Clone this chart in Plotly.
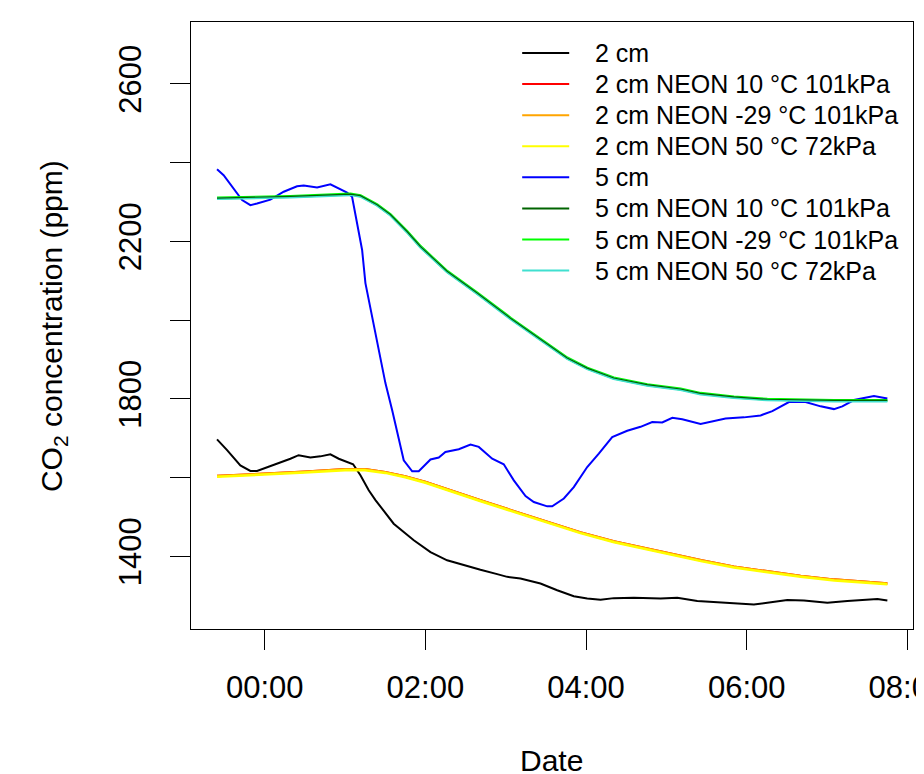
import pandas as pd
import plotly.graph_objects as go

# ---- data (hours relative to midnight, CO2 ppm) ----
blue_h = [-0.593, -0.511, -0.281, -0.178, -0.095, 0.071, 0.237, 0.403, 0.486, 0.653, 0.818, 0.902,
          1.026, 1.088, 1.151, 1.213, 1.254, 1.337, 1.420, 1.503, 1.587, 1.731, 1.836, 1.918, 2.064,
          2.167, 2.250, 2.416, 2.562, 2.665, 2.832, 2.976, 3.101, 3.247, 3.350, 3.517, 3.579, 3.724,
          3.848, 4.015, 4.159, 4.326, 4.513, 4.679, 4.824, 4.949, 5.074, 5.198, 5.426, 5.550, 5.737,
          5.965, 6.173, 6.319, 6.526, 6.733, 6.920, 7.086, 7.190, 7.335, 7.459, 7.584, 7.751]
blue_v = [2383, 2368, 2305, 2292, 2296, 2306, 2326, 2340, 2342, 2337, 2345, 2337,
          2324, 2313, 2245, 2178, 2094, 2008, 1924, 1840, 1771, 1644, 1616, 1616, 1646,
          1651, 1665, 1672, 1684, 1678, 1648, 1634, 1593, 1553, 1538, 1527, 1527, 1547,
          1576, 1627, 1661, 1703, 1719, 1729, 1741, 1740, 1752, 1748, 1736, 1741, 1750,
          1753, 1758, 1769, 1792, 1792, 1781, 1774, 1781, 1797, 1802, 1807, 1801]

black_h = [-0.593, -0.468, -0.303, -0.178, -0.095, 0.071, 0.196, 0.320, 0.423, 0.569, 0.694, 0.818,
           0.922, 1.026, 1.101, 1.192, 1.295, 1.379, 1.441, 1.606, 1.856, 2.064, 2.271, 2.521, 2.686,
           2.894, 3.019, 3.184, 3.433, 3.641, 3.848, 4.015, 4.181, 4.346, 4.595, 4.928, 5.136, 5.385,
           5.634, 5.841, 6.090, 6.257, 6.506, 6.712, 7.004, 7.253, 7.460, 7.627, 7.751]
black_v = [1697, 1670, 1631, 1617, 1617, 1629, 1640, 1648, 1657, 1651, 1654, 1659,
           1648, 1640, 1634, 1606, 1568, 1543, 1527, 1483, 1441, 1411, 1390, 1375, 1366,
           1355, 1348, 1344, 1331, 1314, 1299, 1293, 1290, 1294, 1295, 1293, 1295, 1287,
           1284, 1280, 1278, 1282, 1289, 1288, 1282, 1287, 1290, 1292, 1288]

neon2_h = [-0.593, 0.0, 0.5, 1.0, 1.25, 1.5, 1.75, 2.0, 2.27, 2.69, 3.10, 3.52, 3.93, 4.35,
           4.76, 5.01, 5.43, 5.84, 6.26, 6.67, 7.09, 7.50, 7.751]
neon2_10 = [1604, 1609, 1615, 1621, 1621, 1614, 1603, 1589, 1570, 1542, 1515, 1488, 1461, 1438,
            1420, 1409, 1390, 1374, 1361, 1350, 1341, 1334, 1331]
neon2_m29 = [1604, 1609, 1615, 1621, 1621, 1614, 1603, 1589, 1570, 1542, 1515, 1488, 1461, 1438,
             1420, 1409, 1390, 1374, 1361, 1350, 1341, 1334, 1331]
neon2_50 = [1602, 1607, 1613, 1619, 1619, 1612, 1601, 1587, 1568, 1540, 1513, 1486, 1459, 1436,
            1418, 1407, 1388, 1372, 1359, 1348, 1339, 1332, 1329]

neon5_h = [-0.593, 0.320, 1.067, 1.192, 1.400, 1.565, 1.773, 1.939, 2.271, 2.645, 3.060, 3.474,
           3.766, 4.015, 4.346, 4.762, 5.177, 5.426, 5.841, 6.257, 6.671, 7.086, 7.751]
neon5_10 = [2310, 2314, 2320, 2316, 2293, 2268, 2225, 2187, 2124, 2069, 2005, 1946,
            1904, 1878, 1853, 1836, 1825, 1814, 1805, 1799, 1797, 1796, 1796]
neon5_m29 = [2310, 2314, 2320, 2316, 2293, 2268, 2225, 2187, 2124, 2069, 2005, 1946,
             1904, 1878, 1853, 1836, 1825, 1814, 1805, 1799, 1797, 1796, 1796]
neon5_50 = [2308, 2312, 2318, 2314, 2291, 2266, 2223, 2185, 2122, 2067, 2003, 1944,
            1902, 1876, 1851, 1834, 1823, 1812, 1803, 1797, 1795, 1794, 1794]

x_ticks_h = [0, 2, 4, 6, 8]

BASE = pd.Timestamp("2021-06-01 00:00:00")


def to_dt(hours):
    return [(BASE + pd.Timedelta(hours=h)).strftime("%Y-%m-%d %H:%M:%S") for h in hours]


FONT = "Liberation Sans, Arial, sans-serif"

# page body has an 8px margin: figure is placed at (8, 8) in the window
W, H = 916, 766
ML, MT = 183, 14
PW, PH = 721.6, 606.7
MR = W - ML - PW
MB = H - MT - PH

fig = go.Figure()
# (name, x, y, colour, width) in legend order; draw order given separately
series = [
    ("2 cm", black_h, black_v, "black", 2),
    ("2 cm NEON 10 °C 101kPa", neon2_h, neon2_10, "red", 2.5),
    ("2 cm NEON -29 °C 101kPa", neon2_h, neon2_m29, "orange", 2.5),
    ("2 cm NEON 50 °C 72kPa", neon2_h, neon2_50, "yellow", 2.5),
    ("5 cm", blue_h, blue_v, "blue", 2),
    ("5 cm NEON 10 °C 101kPa", neon5_h, neon5_10, "darkgreen", 1.2),
    ("5 cm NEON -29 °C 101kPa", neon5_h, neon5_m29, "#00FF00", 3),
    ("5 cm NEON 50 °C 72kPa", neon5_h, neon5_50, "#40E0D0", 2.5),
]
draw_order = [0, 1, 2, 3, 4, 6, 7, 5]
for i in draw_order:
    name, hx, yv, col, w = series[i]
    fig.add_trace(go.Scatter(
        x=to_dt(hx), y=yv, mode="lines", name=name,
        line=dict(color=col, width=w), showlegend=False,
    ))

# legend (no box), drawn as key lines + labels in paper coordinates
leg_shapes, leg_ann = [], []
LEG_X0, LEG_X1, LEG_TX = 522, 569, 593   # window pixels
LEG_Y0, LEG_DY = 53, 31.07


def px_x(wx):
    return (wx - 8 - ML) / PW


def px_y(wy):
    return (MT + PH - (wy - 8)) / PH


for i, (name, _, _, col, _) in enumerate(series):
    wy = LEG_Y0 + i * LEG_DY
    leg_shapes.append(dict(type="line", xref="paper", yref="paper",
                           x0=px_x(LEG_X0), x1=px_x(LEG_X1), y0=px_y(wy), y1=px_y(wy),
                           line=dict(color=col, width=2)))
    leg_ann.append(dict(text=name, xref="paper", yref="paper", x=px_x(LEG_TX), y=px_y(wy),
                        xanchor="left", yanchor="middle", showarrow=False,
                        font=dict(family=FONT, size=25, color="black")))

axis_common = dict(
    showline=True, linecolor="black", linewidth=1.3, mirror=True,
    ticks="outside", ticklen=20, tickwidth=1.3, tickcolor="black",
    showgrid=False, zeroline=False,
    tickfont=dict(family=FONT, size=31, color="black"),
    ticklabeloverflow="allow",
)

fig.update_layout(
    width=W, height=H,
    margin=dict(l=ML, r=MR, t=MT, b=MB, pad=0, autoexpand=False),
    paper_bgcolor="white", plot_bgcolor="white",
    font=dict(family=FONT, color="black"),
    showlegend=False,
    xaxis=dict(
        type="date",
        range=to_dt([-0.917, 8.07]),
        tickvals=to_dt(x_ticks_h),
        tickformat="%H:%M",
        ticklabelstandoff=11,
        **axis_common,
    ),
    yaxis=dict(
        range=[1215.6, 2757],
        tick0=1400, dtick=400,
        tickangle=-90,
        ticklabelstandoff=16,
        minor=dict(tick0=1400, dtick=200, ticks="outside", ticklen=20,
                   tickwidth=1.3, tickcolor="black", showgrid=False),
        **axis_common,
    ),
    shapes=leg_shapes,
    annotations=leg_ann + [
        dict(text="CO<sub>2</sub> concentration (ppm)", xref="paper", yref="paper",
             x=px_x(53), y=px_y(326), textangle=-90, showarrow=False,
             font=dict(family=FONT, size=30, color="black"),
             xanchor="center", yanchor="middle"),
        dict(text="Date", xref="paper", yref="paper",
             x=px_x(551), y=px_y(760), showarrow=False,
             font=dict(family=FONT, size=30, color="black"),
             xanchor="center", yanchor="middle"),
    ],
)

fig.write_html("out.html")
